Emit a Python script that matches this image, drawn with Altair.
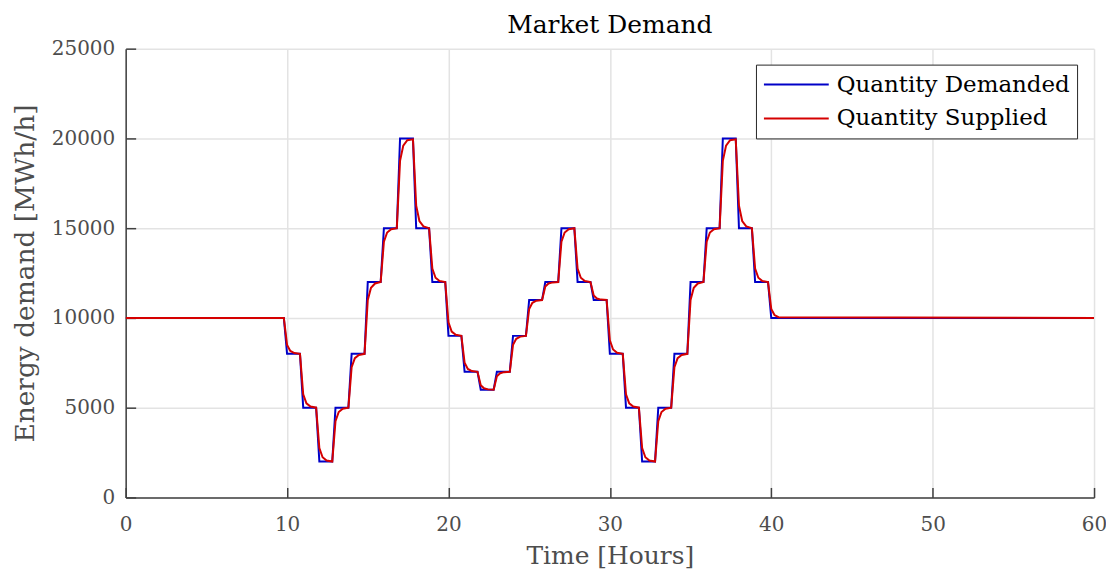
import altair as alt
import pandas as pd

# Demand steps: hour at which each new level is reached, and the level
step_hours = [10, 11, 12, 13, 14, 15, 16, 17, 18, 19, 20, 21, 22, 23, 24, 25,
              26, 27, 28, 29, 30, 31, 32, 33, 34, 35, 36, 37, 38, 39, 40]
demand_levels = [8000, 5000, 2000, 5000, 8000, 12000, 15000, 20000, 15000, 12000,
                 9000, 7000, 6000, 7000, 9000, 11000, 12000, 15000, 12000, 11000,
                 8000, 5000, 2000, 5000, 8000, 12000, 15000, 20000, 15000, 12000, 10000]
base_level = 10000
t_start, t_end = 0, 60

# Supplied quantity, per step:
# value just before the step, at the step hour, 0.2 h and 0.45 h later
supply_pre = [10000, 8000, 5000, 2000, 5000, 8000, 12000, 15000, 19950, 15000,
              12000, 9000, 7000, 6000, 7000, 9000, 11000, 12000, 15000, 12000,
              11000, 8000, 5000, 2000, 5000, 8000, 12000, 15000, 19950, 15000, 12000]
supply_at = [8500, 5750, 2750, 4250, 7250, 11000, 14250, 18750, 16250, 12750,
             9750, 7500, 6250, 6750, 8500, 10500, 11750, 14250, 12750, 11250,
             8750, 5750, 2750, 4250, 7250, 11000, 14250, 18750, 16250, 12750, 10500]
supply_02 = [8160, 5240, 2240, 4760, 7760, 11680, 14760, 19600, 15400, 12240,
             9240, 7160, 6080, 6920, 8840, 10840, 11920, 14760, 12240, 11080,
             8240, 5240, 2240, 4760, 7760, 11680, 14760, 19600, 15400, 12240, 10160]
supply_045 = [8040, 5060, 2060, 4940, 7940, 11920, 14940, 19900, 15100, 12060,
              9060, 7040, 6020, 6980, 8960, 10960, 11980, 14940, 12060, 11020,
              8060, 5060, 2060, 4940, 7940, 11920, 14940, 19900, 15100, 12060, 10040]

x_ticks = [0, 10, 20, 30, 40, 50, 60]
y_ticks = [0, 5000, 10000, 15000, 20000, 25000]
series_names = ["Quantity Demanded", "Quantity Supplied"]
series_colors = ["#0000c8", "#d50000"]

rows = []
o = 0
rows.append({"t": t_start, "v": base_level, "s": series_names[0], "o": o}); o += 1
prev = base_level
for h, lvl in zip(step_hours, demand_levels):
    rows.append({"t": h - 0.2, "v": prev, "s": series_names[0], "o": o}); o += 1
    rows.append({"t": h, "v": lvl, "s": series_names[0], "o": o}); o += 1
    prev = lvl
rows.append({"t": t_end, "v": prev, "s": series_names[0], "o": o}); o += 1

rows.append({"t": t_start, "v": base_level, "s": series_names[1], "o": o}); o += 1
for h, p, a, b, c in zip(step_hours, supply_pre, supply_at, supply_02, supply_045):
    rows.append({"t": h - 0.2, "v": p, "s": series_names[1], "o": o}); o += 1
    rows.append({"t": h, "v": a, "s": series_names[1], "o": o}); o += 1
    rows.append({"t": h + 0.2, "v": b, "s": series_names[1], "o": o}); o += 1
    rows.append({"t": h + 0.45, "v": c, "s": series_names[1], "o": o}); o += 1
rows.append({"t": t_end, "v": base_level, "s": series_names[1], "o": o}); o += 1

df = pd.DataFrame(rows)

FONT = "DejaVu Serif"
AX = "#404040"
LBL = "#4d4d4d"
GRID = "#e3e3e3"

chart = alt.Chart(df).mark_line(strokeWidth=2, clip=True).encode(
    x=alt.X("t:Q", scale=alt.Scale(domain=[0, 60], nice=False),
            axis=alt.Axis(values=x_ticks, title="Time [Hours]", format="d",
                          grid=True, gridColor=GRID, gridWidth=1.5,
                          domainColor=AX, domainWidth=1.5,
                          tickColor=AX, tickWidth=1.5, tickSize={"expr": "-10"},
                          labelFont=FONT, labelFontSize=20, labelColor=LBL,
                          labelPadding=27, labelFlush=False,
                          titleFont=FONT, titleFontSize=25, titleColor=LBL,
                          titleFontWeight="normal", titlePadding=9)),
    y=alt.Y("v:Q", scale=alt.Scale(domain=[0, 25000], nice=False),
            axis=alt.Axis(values=y_ticks, title="Energy demand [MWh/h]", format="d",
                          grid=True, gridColor=GRID, gridWidth=1.5,
                          domainColor=AX, domainWidth=1.5,
                          tickColor=AX, tickWidth=1.5, tickSize={"expr": "-10"},
                          labelFont=FONT, labelFontSize=20, labelColor=LBL,
                          labelPadding=21, labelFlush=False,
                          titleFont=FONT, titleFontSize=26.5, titleColor=LBL,
                          titleFontWeight="normal", titlePadding=12)),
    color=alt.Color("s:N", scale=alt.Scale(domain=series_names, range=series_colors),
                    legend=alt.Legend(title=None, orient="none", legendX=632, legendY=16,
                                      symbolType="stroke", symbolSize=4225,
                                      symbolStrokeWidth=2, labelFont=FONT,
                                      labelFontSize=23, labelColor="black",
                                      labelLimit=0, clipHeight=26,
                                      labelOffset=7, strokeColor="#262626",
                                      fillColor="white", padding=7, rowPadding=8)),
    order="o:Q",
).properties(
    width=971, height=450,
    title=alt.TitleParams("Market Demand", font=FONT, fontSize=25, color="black",
                          fontWeight="normal", anchor="middle", offset=1,
                          frame="group"),
    autosize=alt.AutoSizeParams(type="none"),
    padding={"left": 118, "top": 40, "right": 12, "bottom": 76},
).configure_view(stroke=None)

chart.save("out.html", embed_options={"renderer": "svg", "actions": False})
